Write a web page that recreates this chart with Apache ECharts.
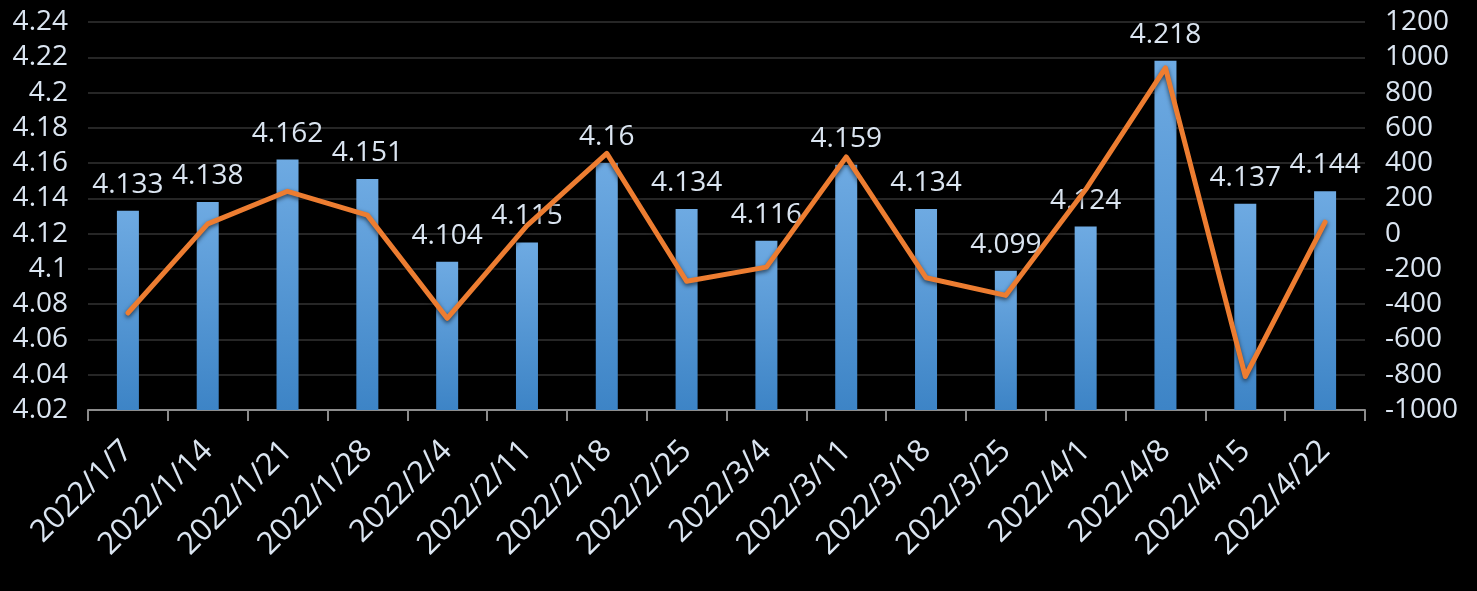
<!DOCTYPE html>
<html>
<head>
<meta charset="utf-8">
<style>
html,body{margin:0;padding:0;background:#000;}
#c{width:1477px;height:591px;}
</style>
<script src="https://cdn.jsdelivr.net/npm/echarts@6/dist/echarts.min.js"></script>
</head>
<body>
<div id="c"></div>
<script>
const categories = ['2022/1/7','2022/1/14','2022/1/21','2022/1/28','2022/2/4','2022/2/11','2022/2/18','2022/2/25','2022/3/4','2022/3/11','2022/3/18','2022/3/25','2022/4/1','2022/4/8','2022/4/15','2022/4/22'];
const barValues = [4.133,4.138,4.162,4.151,4.104,4.115,4.16,4.134,4.116,4.159,4.134,4.099,4.124,4.218,4.137,4.144];
const lineValues = [-450,55,240,105,-480,45,455,-270,-190,435,-250,-350,250,940,-810,65];

const txt = '#dbe5f1';
const font = '"Open Sans", "Noto Sans", sans-serif';
const chart = echarts.init(document.getElementById('c'));
chart.setOption({
  backgroundColor: '#000',
  animation: false,
  grid: {left: 88, right: 112, top: 22, bottom: 181},
  xAxis: {
    type: 'category',
    data: categories,
    boundaryGap: true,
    axisLine: {show: true, onZero: false, lineStyle: {color: '#8c8c8c', width: 2}},
    axisTick: {show: true, length: 11, lineStyle: {color: '#8c8c8c', width: 2}},
    axisLabel: {rotate: 45, color: txt, fontSize: 31, fontFamily: font, margin: 36, interval: 0}
  },
  yAxis: [
    {
      type: 'value', min: 4.02, max: 4.24, interval: 0.02,
      axisLine: {show: false}, axisTick: {show: false},
      splitLine: {lineStyle: {color: '#262626', width: 2}},
      axisLabel: {color: txt, fontSize: 28, fontFamily: font, margin: 20,
        formatter: v => String(parseFloat(v.toFixed(2)))}
    },
    {
      type: 'value', min: -1000, max: 1200, interval: 200,
      axisLine: {show: false}, axisTick: {show: false},
      splitLine: {show: false},
      axisLabel: {color: txt, fontSize: 28, fontFamily: font, margin: 20,
        formatter: v => String(Math.round(v))}
    }
  ],
  series: [
    {
      type: 'bar',
      data: barValues,
      barWidth: 22,
      itemStyle: {
        color: new echarts.graphic.LinearGradient(0, 0, 0, 1, [
          {offset: 0, color: '#6eaae2'},
          {offset: 1, color: '#3d84c6'}
        ])
      },
      label: {show: true, position: 'top', distance: 12, color: txt, fontSize: 28, fontFamily: font}
    },
    {
      type: 'line',
      yAxisIndex: 1,
      data: lineValues,
      symbol: 'none',
      lineStyle: {color: '#ed7d31', width: 5, cap: 'round', join: 'round',
        shadowColor: 'rgba(0,0,0,0.6)', shadowBlur: 4, shadowOffsetY: 2}
    }
  ]
});
</script>
</body>
</html>
